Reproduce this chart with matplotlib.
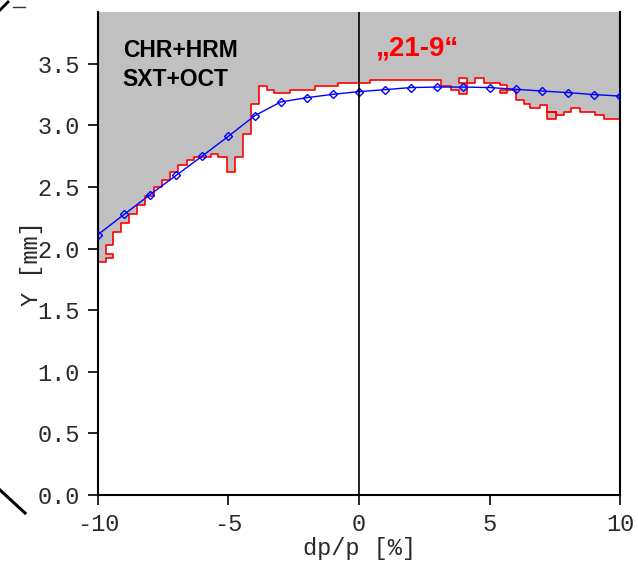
import numpy as np
import matplotlib
matplotlib.use("Agg")
import matplotlib.pyplot as plt
from matplotlib.lines import Line2D

# tracked dp/p scan (blue) and aperture border from the tracking grid (red)
dpp = [-10, -9, -8, -7, -6, -5, -4, -3, -2, -1, 0, 1, 2, 3, 4, 5, 6, 7, 8, 9, 10]
y_track = [2.114, 2.277, 2.439, 2.595, 2.752, 2.912, 3.078, 3.190, 3.225, 3.252, 3.274,
           3.290, 3.307, 3.311, 3.311, 3.307, 3.293, 3.279, 3.266, 3.250, 3.238]

border_x = [-10.0, -9.69, -9.69, -9.41, -9.41, -9.69, -9.69, -9.41, -9.41, -9.12, -9.12,
            -8.80, -8.80, -8.49, -8.49, -8.18, -8.18, -7.87, -7.87, -7.56, -7.56, -7.26,
            -7.26, -6.92, -6.92, -6.60, -6.60, -6.31, -6.31, -5.68, -5.68, -5.39, -5.39,
            -5.06, -5.06, -4.77, -4.77, -4.46, -4.46, -4.14, -4.14, -3.85, -3.85, -3.54,
            -3.54, -3.24, -3.24, -2.64, -2.64, -1.70, -1.70, -0.79, -0.79, 0.43, 0.43,
            3.16, 3.16, 3.51, 3.51, 3.85, 3.85, 4.14, 4.14, 3.85, 3.85, 4.14, 4.14,
            4.44, 4.44, 4.77, 4.77, 5.39, 5.39, 5.68, 5.68, 5.39, 5.39, 6.00, 6.00,
            6.31, 6.31, 6.57, 6.57, 6.93, 6.93, 7.21, 7.21, 7.53, 7.53, 7.21, 7.21,
            7.53, 7.53, 7.85, 7.85, 8.13, 8.13, 8.46, 8.46, 9.06, 9.06, 9.38, 9.38, 10.0]
border_y = [1.892, 1.892, 1.920, 1.920, 1.960, 1.960, 2.028, 2.028, 2.135, 2.135, 2.208,
            2.208, 2.282, 2.282, 2.354, 2.354, 2.427, 2.427, 2.500, 2.500, 2.555, 2.555,
            2.622, 2.622, 2.682, 2.682, 2.717, 2.717, 2.744, 2.744, 2.771, 2.771, 2.744,
            2.744, 2.622, 2.622, 2.744, 2.744, 2.928, 2.928, 3.173, 3.173, 3.317, 3.317,
            3.290, 3.290, 3.263, 3.263, 3.285, 3.285, 3.317, 3.317, 3.344, 3.344, 3.371,
            3.371, 3.317, 3.317, 3.290, 3.290, 3.258, 3.258, 3.344, 3.344, 3.388, 3.388,
            3.344, 3.344, 3.388, 3.388, 3.344, 3.344, 3.329, 3.329, 3.263, 3.263, 3.290,
            3.290, 3.204, 3.204, 3.177, 3.177, 3.141, 3.141, 3.169, 3.169, 3.109, 3.109,
            3.055, 3.055, 3.109, 3.109, 3.082, 3.082, 3.109, 3.109, 3.141, 3.141, 3.109,
            3.109, 3.082, 3.082, 3.048, 3.048]

xticks = [-10, -5, 0, 5, 10]
yticks = [0.0, 0.5, 1.0, 1.5, 2.0, 2.5, 3.0, 3.5]
ytop = 3.92

mono = "Liberation Mono"
sans = "Liberation Sans"
txt_col = "#2a2a2a"

fig = plt.figure(figsize=(6.38, 5.62), dpi=100)
ax = fig.add_axes([0.1536, 0.1192, 0.8182, 0.8594])

# lost region above the border
ax.fill(border_x + [10, -10], border_y + [ytop, ytop], color="#c0c0c0", lw=0, zorder=1)
ax.plot(border_x, border_y, color="red", lw=1.2, zorder=2)
ax.plot(dpp, y_track, color="blue", lw=1.0, marker="D", ms=4.5, mfc="none",
        mec="blue", mew=1.0, zorder=3)
ax.axvline(0, color="black", lw=1.2, zorder=4)

ax.set_xlim(-10, 10)
ax.set_ylim(0, ytop)
ax.set_xticks(xticks)
ax.set_xticklabels([("-" if v < 0 else "") + str(abs(v)) for v in xticks])
ax.set_yticks(yticks)
ax.set_yticklabels(["%.1f" % v for v in yticks])
ax.tick_params(direction="out", length=7, width=1.2, labelsize=17, pad=6,
               labelcolor=txt_col)
for lab in ax.get_xticklabels() + ax.get_yticklabels():
    lab.set_fontfamily(mono)
for s in ["left", "bottom", "right"]:
    ax.spines[s].set_linewidth(1.5)
ax.spines["top"].set_visible(False)

ax.set_xlabel("dp/p [%]", fontfamily=mono, fontsize=17, labelpad=1, color=txt_col)
ax.set_ylabel("Y [mm]", fontfamily=mono, fontsize=17, color=txt_col)
ax.yaxis.set_label_coords(-0.105, 0.48)

ax.text(-9.05, 3.49, "CHR+HRM\nSXT+OCT", fontfamily=sans, fontweight="bold",
        fontsize=16.5, va="center", ha="left", linespacing=1.3, zorder=5)
ax.text(0.65, 3.62, "\u201e21-9\u201c", fontfamily=sans, fontweight="bold",
        fontsize=20, color="red", va="center", ha="left", zorder=5)

# page edge strokes
fig.add_artist(Line2D([0 / 638, 8 / 638], [1 - 10 / 562, 1 - 2 / 562], color="black", lw=2))
fig.add_artist(Line2D([13 / 638, 25 / 638], [1 - 7 / 562, 1 - 7 / 562], color="#333333", lw=1))
fig.add_artist(Line2D([0 / 638, 25 / 638], [1 - 490 / 562, 1 - 513 / 562], color="black", lw=2.2))

fig.savefig("out.png", dpi=100)
